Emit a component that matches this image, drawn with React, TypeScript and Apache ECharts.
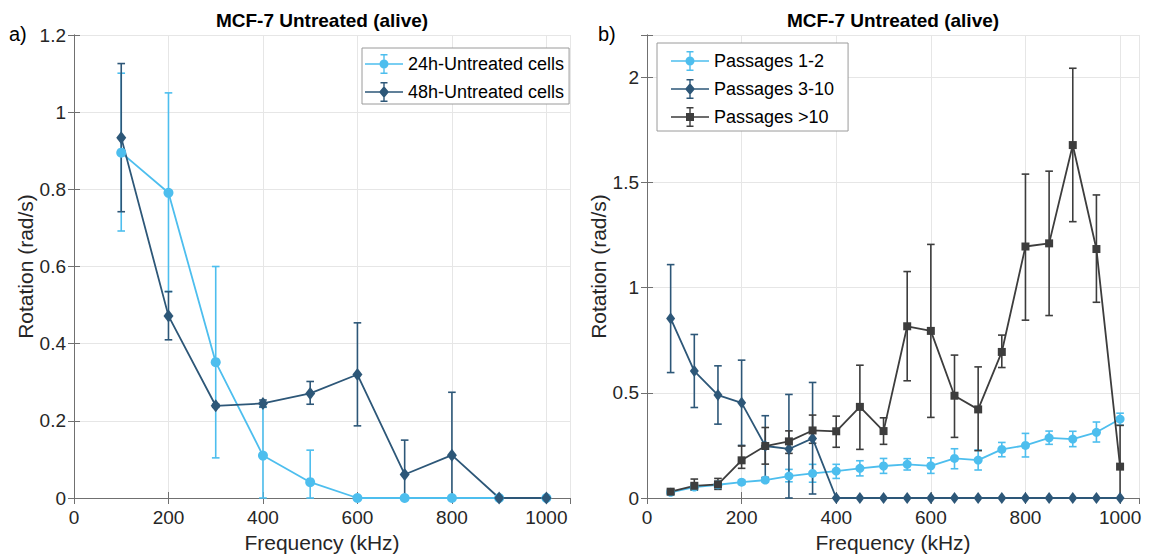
import React, { useEffect, useRef } from "react";
import * as echarts from "echarts";

// ---------- Data ----------
const freqA = [100, 200, 300, 400, 500, 600, 700, 800, 900, 1000];
const untreated24 = [0.895, 0.791, 0.352, 0.11, 0.041, 0, 0, 0, 0, 0];
const untreated24Low = [0.692, 0.535, 0.104, 0, 0, 0, 0, 0, 0, 0];
const untreated24High = [1.101, 1.05, 0.6, 0.235, 0.124, 0, 0, 0, 0, 0];
const untreated48 = [0.934, 0.472, 0.239, 0.245, 0.271, 0.32, 0.061, 0.111, 0, 0];
const untreated48Low = [0.742, 0.41, 0.235, 0.236, 0.243, 0.187, 0, 0, 0, 0];
const untreated48High = [1.126, 0.535, 0.243, 0.254, 0.302, 0.454, 0.15, 0.274, 0, 0];

const freqB = [50, 100, 150, 200, 250, 300, 350, 400, 450, 500, 550, 600, 650, 700, 750, 800, 850, 900, 950, 1000];
const passages12 = [0.027, 0.052, 0.063, 0.075, 0.085, 0.104, 0.117, 0.128, 0.141, 0.152, 0.16, 0.153, 0.188, 0.18, 0.231, 0.25, 0.286, 0.28, 0.312, 0.375];
const passages12Low = [0.017, 0.037, 0.048, 0.065, 0.075, 0.077, 0.075, 0.093, 0.105, 0.117, 0.133, 0.117, 0.139, 0.133, 0.196, 0.195, 0.255, 0.244, 0.266, 0.346];
const passages12High = [0.037, 0.067, 0.078, 0.085, 0.095, 0.136, 0.16, 0.16, 0.177, 0.188, 0.187, 0.191, 0.234, 0.228, 0.264, 0.307, 0.318, 0.317, 0.361, 0.403];
const passages310 = [0.853, 0.603, 0.489, 0.452, 0.247, 0.233, 0.283, 0, 0, 0, 0, 0, 0, 0, 0, 0, 0, 0, 0, 0];
const passages310Low = [0.596, 0.43, 0.351, 0.25, 0.098, 0, 0.019, 0, 0, 0, 0, 0, 0, 0, 0, 0, 0, 0, 0, 0];
const passages310High = [1.109, 0.777, 0.628, 0.655, 0.391, 0.492, 0.549, 0, 0, 0, 0, 0, 0, 0, 0, 0, 0, 0, 0, 0];
const passages10 = [0.03, 0.058, 0.065, 0.179, 0.247, 0.269, 0.321, 0.317, 0.433, 0.318, 0.816, 0.794, 0.486, 0.421, 0.694, 1.195, 1.21, 1.677, 1.183, 0.149];
const passages10Low = [0.02, 0.038, 0.041, 0.141, 0.161, 0.212, 0.26, 0.241, 0.231, 0.255, 0.557, 0.383, 0.288, 0.225, 0.62, 0.845, 0.867, 1.313, 0.93, 0];
const passages10High = [0.04, 0.09, 0.093, 0.247, 0.335, 0.319, 0.394, 0.389, 0.631, 0.381, 1.076, 1.205, 0.679, 0.623, 0.774, 1.539, 1.553, 2.042, 1.44, 0.345];

const titleText = "MCF-7 Untreated (alive)";
const xName = "Frequency (kHz)";
const yName = "Rotation (rad/s)";

// ---------- Styles ----------
const FONT = "Liberation Sans, Arial, Helvetica, sans-serif";
const LIGHT = "#4DBEEE";
const DARK = "#2D5778";
const BLACK = "#3D3D3D";
const AXIS = "#707070";
const GRIDC = "#E6E6E6";
const TXT = "#262626";

const H = "M0 9.2H38V10.8H0Z M18.3 0H19.7V20H18.3Z M15.5 0H22.5V1.4H15.5Z M15.5 18.6H22.5V20H15.5Z ";
const ICON_CIRCLE = "path://" + H + "M14.5 10A4.5 4.5 0 1 1 23.5 10A4.5 4.5 0 1 1 14.5 10Z";
const ICON_DIAMOND = "path://" + H + "M19 4L24 10L19 16L14 10Z";
const ICON_SQUARE = "path://" + H + "M15 6H23V14H15Z";

function errorSeries(name: string, xs: number[], lo: number[], hi: number[], color: string, xi: number, yi: number) {
  return {
    type: "custom",
    name,
    xAxisIndex: xi,
    yAxisIndex: yi,
    silent: true,
    encode: { x: 0, y: [1, 2] },
    data: xs.map((x, i) => [x, lo[i], hi[i]]),
    renderItem: (params: any, api: any) => {
      const x = api.value(0);
      const l = api.value(1);
      const h = api.value(2);
      if (h - l < 1e-9) return null;
      const top = api.coord([x, h]);
      const bot = api.coord([x, l]);
      const hw = 3.8;
      const style = { stroke: color, lineWidth: 1.6, fill: "none" };
      return {
        type: "group",
        children: [
          { type: "line", shape: { x1: top[0], y1: top[1], x2: bot[0], y2: bot[1] }, style },
          { type: "line", shape: { x1: top[0] - hw, y1: top[1], x2: top[0] + hw, y2: top[1] }, style },
          { type: "line", shape: { x1: bot[0] - hw, y1: bot[1], x2: bot[0] + hw, y2: bot[1] }, style },
        ],
      };
    },
  };
}

function lineSeries(name: string, xs: number[], ys: number[], color: string, symbol: string, size: any, xi: number, yi: number) {
  return {
    type: "line",
    name,
    xAxisIndex: xi,
    yAxisIndex: yi,
    data: xs.map((x, i) => [x, ys[i]]),
    symbol,
    symbolSize: size,
    showAllSymbol: true,
    lineStyle: { color, width: 1.8 },
    itemStyle: { color, borderWidth: 0 },
    emphasis: { disabled: true },
  };
}

function xAxes(gridIndex: number, max: number) {
  const fmt = (v: number) => (v % 200 === 0 ? String(v) : "");
  return [
    {
      type: "value",
      gridIndex,
      min: 0,
      max,
      interval: 200,
      position: "bottom",
      name: xName,
      nameLocation: "middle",
      nameGap: 34,
      nameTextStyle: { fontSize: 21, color: TXT, fontFamily: FONT },
      axisLine: { show: true, lineStyle: { color: AXIS, width: 1 } },
      axisTick: { show: true, inside: true, length: 6, lineStyle: { color: AXIS } },
      axisLabel: { fontSize: 19, color: TXT, fontFamily: FONT, margin: 10, formatter: fmt, showMaxLabel: false },
      splitLine: { show: true, lineStyle: { color: GRIDC, width: 1 } },
    },
    {
      type: "value",
      gridIndex,
      min: 0,
      max,
      interval: 200,
      position: "top",
      axisLine: { show: true, lineStyle: { color: AXIS, width: 1 } },
      axisTick: { show: true, inside: true, length: 6, lineStyle: { color: AXIS } },
      axisLabel: { show: false },
      splitLine: { show: false },
    },
  ];
}

function yAxes(gridIndex: number, max: number, interval: number, nameGap: number) {
  const fmt = (v: number) => {
    const k = Math.round(v / interval);
    if (Math.abs(k * interval - v) > 1e-6) return "";
    return String(parseFloat(v.toFixed(2)));
  };
  return [
    {
      type: "value",
      gridIndex,
      min: 0,
      max,
      interval,
      position: "left",
      name: yName,
      nameLocation: "middle",
      nameGap,
      nameTextStyle: { fontSize: 21, color: TXT, fontFamily: FONT },
      axisLine: { show: true, lineStyle: { color: AXIS, width: 1 } },
      axisTick: { show: true, inside: true, length: 6, lineStyle: { color: AXIS } },
      axisLabel: { fontSize: 19, color: TXT, fontFamily: FONT, margin: 8, formatter: fmt },
      splitLine: { show: true, lineStyle: { color: GRIDC, width: 1 } },
    },
    {
      type: "value",
      gridIndex,
      min: 0,
      max,
      interval,
      position: "right",
      axisLine: { show: true, lineStyle: { color: AXIS, width: 1 } },
      axisTick: { show: true, inside: true, length: 6, lineStyle: { color: AXIS } },
      axisLabel: { show: false },
      splitLine: { show: false },
    },
  ];
}

export default function App() {
  const ref = useRef<HTMLDivElement>(null);
  useEffect(() => {
    document.body.style.margin = "0";
    if (!ref.current) return;
    const chart = echarts.init(ref.current, null, { renderer: "svg" });
    const legendText = { fontSize: 18, color: "#000", fontFamily: FONT };
    const option: any = {
      animation: false,
      backgroundColor: "#fff",
      textStyle: { fontFamily: FONT },
      title: [
        {
          text: titleText,
          left: 322,
          top: 11,
          textAlign: "center",
          padding: 0,
          textStyle: { fontSize: 19, fontWeight: "bold", color: "#000", fontFamily: FONT },
        },
        {
          text: titleText,
          left: 893,
          top: 11,
          textAlign: "center",
          padding: 0,
          textStyle: { fontSize: 19, fontWeight: "bold", color: "#000", fontFamily: FONT },
        },
      ],
      grid: [
        { left: 74, top: 35, width: 496, height: 463, containLabel: false },
        { left: 647, top: 35, width: 492, height: 463, containLabel: false },
      ],
      xAxis: [...xAxes(0, 1050), ...xAxes(1, 1040)],
      yAxis: [...yAxes(0, 1.2, 0.2, 38), ...yAxes(1, 2.2, 0.5, 25)],
      legend: [
        {
          orient: "vertical",
          left: 362,
          top: 48,
          padding: [6, 5, 2, 3],
          itemGap: 8,
          itemWidth: 38,
          itemHeight: 20,
          borderColor: "#9a9a9a",
          borderWidth: 1,
          backgroundColor: "#fff",
          selectedMode: false,
          textStyle: legendText,
          data: [
            { name: "24h-Untreated cells", icon: ICON_CIRCLE },
            { name: "48h-Untreated cells", icon: ICON_DIAMOND },
          ],
        },
        {
          orient: "vertical",
          left: 657,
          top: 43,
          padding: [8, 14, 4, 14],
          itemGap: 8,
          itemWidth: 38,
          itemHeight: 20,
          borderColor: "#9a9a9a",
          borderWidth: 1,
          backgroundColor: "#fff",
          selectedMode: false,
          textStyle: legendText,
          data: [
            { name: "Passages 1-2", icon: ICON_CIRCLE },
            { name: "Passages 3-10", icon: ICON_DIAMOND },
            { name: "Passages >10", icon: ICON_SQUARE },
          ],
        },
      ],
      graphic: [
        { type: "text", left: 9, top: 24, style: { text: "a)", fontSize: 20, fill: "#000", fontFamily: FONT } },
        { type: "text", left: 598, top: 24, style: { text: "b)", fontSize: 20, fill: "#000", fontFamily: FONT } },
      ],
      series: [
        errorSeries("err24", freqA, untreated24Low, untreated24High, LIGHT, 0, 0),
        lineSeries("24h-Untreated cells", freqA, untreated24, LIGHT, "circle", 10, 0, 0),
        errorSeries("err48", freqA, untreated48Low, untreated48High, DARK, 0, 0),
        lineSeries("48h-Untreated cells", freqA, untreated48, DARK, "diamond", [10, 13], 0, 0),
        errorSeries("errP12", freqB, passages12Low, passages12High, LIGHT, 2, 2),
        lineSeries("Passages 1-2", freqB, passages12, LIGHT, "circle", 9, 2, 2),
        errorSeries("errP310", freqB, passages310Low, passages310High, DARK, 2, 2),
        lineSeries("Passages 3-10", freqB, passages310, DARK, "diamond", [9, 12], 2, 2),
        errorSeries("errP10", freqB, passages10Low, passages10High, BLACK, 2, 2),
        lineSeries("Passages >10", freqB, passages10, BLACK, "rect", 8, 2, 2),
      ],
    };
    chart.setOption(option);
    return () => chart.dispose();
  }, []);
  return <div ref={ref} style={{ width: 1156, height: 559 }} />;
}
